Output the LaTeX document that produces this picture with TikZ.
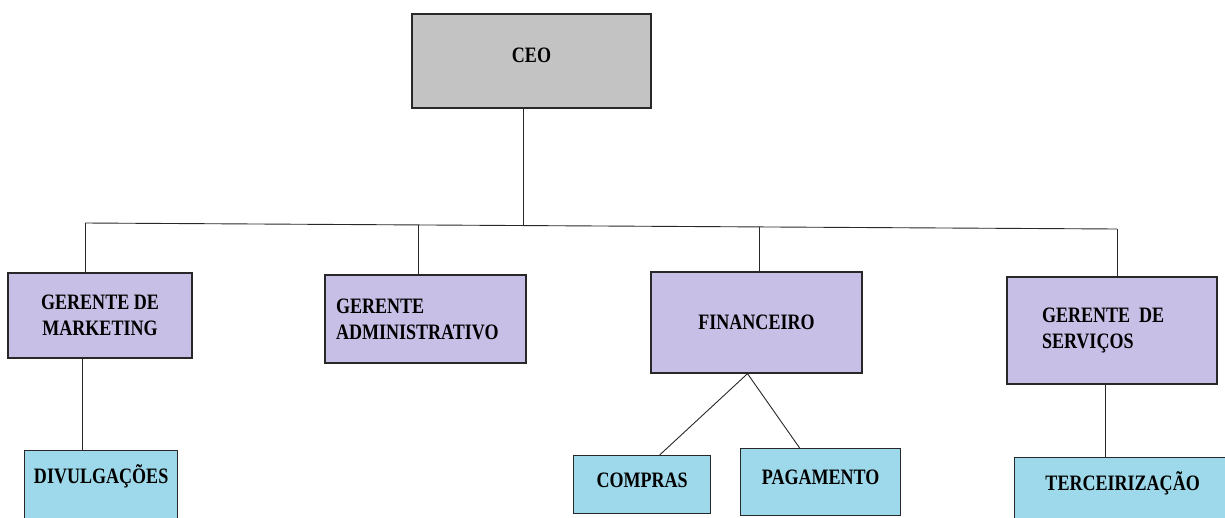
\documentclass[tikz,border=0pt]{standalone}
\usepackage{fontspec}
\setmainfont{Liberation Serif}[FakeStretch=0.82]
\usepackage{xcolor}
\usepackage{tikz}
\usetikzlibrary{shapes,positioning}

\definecolor{ceogray}{RGB}{195,195,195}
\definecolor{mgrpurple}{RGB}{199,191,230}
\definecolor{unitblue}{RGB}{157,217,234}
\definecolor{edge}{RGB}{40,40,40}

\begin{document}
\begin{tikzpicture}[x=1pt, y=-1pt]
\tikzstyle{box} = [rectangle, draw=edge, line width=1.3pt, inner sep=0pt, font=\bfseries\fontsize{22}{26}\selectfont]
\tikzstyle{boss} = [box, fill=ceogray]
\tikzstyle{manager} = [box, fill=mgrpurple, align=center]
\tikzstyle{unit} = [box, fill=unitblue, anchor=north west, align=center, text height=33pt, text depth=27pt]
\tikzstyle{line} = [draw=edge, line width=0.9pt]

\useasboundingbox (0,0) rectangle (1225,517);

\node [boss, minimum width=239pt, minimum height=94pt, text depth=12pt] (ceo) at (531.5,61) {CEO};

\node [manager, minimum width=184pt, minimum height=85pt] (mkt) at (100,315.5) {GERENTE DE\\MARKETING};
\node [manager, minimum width=201pt, minimum height=88pt, text width=179pt, align=left] (adm) at (425.5,319) {GERENTE\\ADMINISTRATIVO};
\node [manager, minimum width=211pt, minimum height=101pt] (fin) at (756.5,322.5) {FINANCEIRO};
\node [manager, minimum width=210pt, minimum height=107pt, text width=140pt, align=left] (serv) at (1112,330.5) {GERENTE\hspace{9pt}DE\\SERVIÇOS};

\node [unit, text width=153pt, text depth=41pt] (div) at (24,450) {DIVULGAÇÕES};
\node [unit, text width=137pt, text height=32pt, text depth=26pt] (comp) at (573,455) {COMPRAS};
\node [unit, text width=160pt, text height=36pt, text depth=31pt] (pag) at (740,448) {PAGAMENTO};
\node [unit, text width=216pt, text depth=40pt] (terc) at (1014,457) {TERCEIRIZAÇÃO};

\coordinate (busmkt) at (85,223);
\coordinate (busadm) at (418,225);
\coordinate (busceo) at (523,225.5);
\coordinate (busfin) at (759,227);
\coordinate (busserv) at (1117,229);

\path [line] (busmkt) -- (busserv);
\path [line] (ceo.south -| busceo) -- (busceo);
\path [line] (busmkt) -- (busmkt |- mkt.north);
\path [line] (busadm) -- (busadm |- adm.north);
\path [line] (busfin) -- (busfin |- fin.north);
\path [line] (busserv) -- (busserv |- serv.north);
\path [line] ([xshift=-18pt]mkt.south) -- ([xshift=-18pt]mkt.south |- div.north);
\path [line] ([xshift=-9pt]fin.south) -- ([xshift=17.5pt]comp.north);
\path [line] ([xshift=-9pt]fin.south) -- ([xshift=-21pt]pag.north);
\path [line] ([xshift=-7pt]serv.south) -- ([xshift=-7pt]serv.south |- terc.north);
\end{tikzpicture}
\end{document}
